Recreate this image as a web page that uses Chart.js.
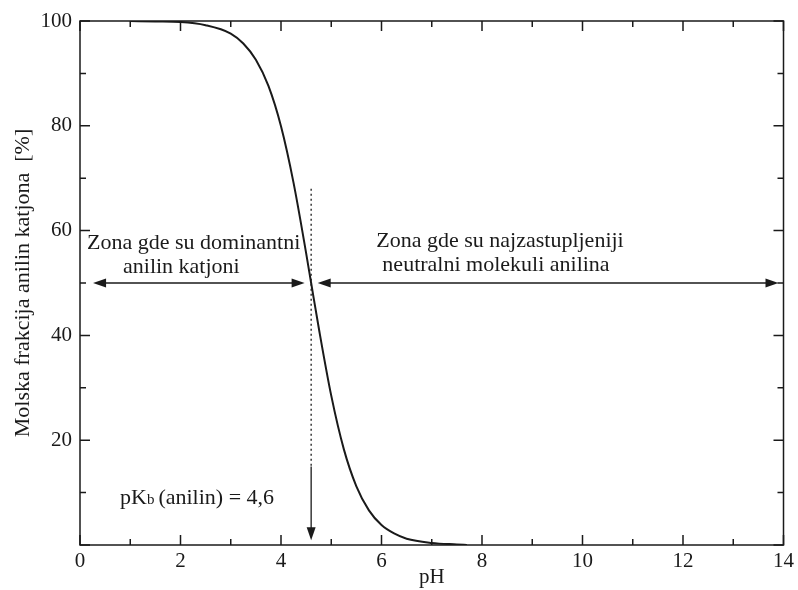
<!DOCTYPE html>
<html><head><meta charset="utf-8">
<script src="https://cdn.jsdelivr.net/npm/chart.js@4/dist/chart.umd.min.js"></script>
<style>html,body{margin:0;padding:0;background:#fff}#wrap{width:798px;height:590px}</style>
</head><body><div id="wrap"><canvas id="c" width="798" height="590"></canvas></div>
<script>
// Data
const pHValues = [1.0,1.5,2.0,2.5,3.0,3.25,3.5,3.75,4.0,4.25,4.5,4.6,4.75,5.0,5.25,5.5,5.75,6.0,6.25,6.5,7.0,7.5,7.7];
const cationPercent = [100.0,99.9,99.8,99.2,97.6,95.7,92.6,87.6,79.9,69.1,55.7,50.0,41.5,28.5,18.3,11.2,6.6,3.8,2.2,1.2,0.4,0.1,0.0];
const xTickLabels = ['0','2','4','6','8','10','12','14'];
const yTickLabels = ['20','40','60','80','100'];
const pKb = 4.6;

const SERIF = '"Liberation Serif", "DejaVu Serif", serif';
const INK = '#1a1a1a';

function arrowHead(ctx, x, y, dir) {
  const L = 13, W = 4.5;
  ctx.beginPath();
  if (dir === 'left') { ctx.moveTo(x, y); ctx.lineTo(x + L, y - W); ctx.lineTo(x + L, y + W); }
  else if (dir === 'right') { ctx.moveTo(x, y); ctx.lineTo(x - L, y - W); ctx.lineTo(x - L, y + W); }
  else { ctx.moveTo(x, y); ctx.lineTo(x - W, y - L); ctx.lineTo(x + W, y - L); }
  ctx.closePath(); ctx.fill();
}

const decor = {
  id: 'decor',
  afterDatasetsDraw(chart) {
    const { ctx, chartArea: a, scales: { x, y } } = chart;
    ctx.save();
    ctx.strokeStyle = INK; ctx.fillStyle = INK;
    ctx.lineWidth = 1.5;
    ctx.strokeRect(a.left, a.top, a.right - a.left, a.bottom - a.top);
    for (let v = 0; v <= 14; v++) {
      const px = x.getPixelForValue(v), len = v % 2 === 0 ? 10 : 6;
      ctx.beginPath();
      ctx.moveTo(px, a.bottom); ctx.lineTo(px, a.bottom - len);
      ctx.moveTo(px, a.top); ctx.lineTo(px, a.top + len);
      ctx.stroke();
    }
    for (let v = 0; v <= 100; v += 10) {
      const py = y.getPixelForValue(v), len = v % 20 === 0 ? 10 : 6;
      ctx.beginPath();
      ctx.moveTo(a.left, py); ctx.lineTo(a.left + len, py);
      ctx.moveTo(a.right, py); ctx.lineTo(a.right - len, py);
      ctx.stroke();
    }
    const xp = x.getPixelForValue(pKb);
    ctx.lineWidth = 1.3;
    ctx.setLineDash([2, 3]);
    ctx.beginPath(); ctx.moveTo(xp, y.getPixelForValue(68)); ctx.lineTo(xp, y.getPixelForValue(15)); ctx.stroke();
    ctx.setLineDash([]);
    ctx.beginPath(); ctx.moveTo(xp, y.getPixelForValue(15)); ctx.lineTo(xp, y.getPixelForValue(1.5)); ctx.stroke();
    arrowHead(ctx, xp, y.getPixelForValue(0.9), 'down');
    const ya = y.getPixelForValue(50);
    const segs = [[0.26, 4.47], [4.73, 13.9]];
    ctx.lineWidth = 1.5;
    segs.forEach(([s, e]) => {
      const x1 = x.getPixelForValue(s), x2 = x.getPixelForValue(e);
      ctx.beginPath(); ctx.moveTo(x1 + 5, ya); ctx.lineTo(x2 - 5, ya); ctx.stroke();
      arrowHead(ctx, x1, ya, 'left'); arrowHead(ctx, x2, ya, 'right');
    });
    ctx.font = '22px ' + SERIF;
    ctx.textBaseline = 'middle';
    ctx.textAlign = 'left';
    ctx.fillText('Zona gde su dominantni', 87, 243);
    ctx.fillText('anilin katjoni', 123, 267);
    ctx.textAlign = 'center';
    ctx.fillText('Zona gde su najzastupljeniji', 500, 241);
    ctx.fillText('neutralni molekuli anilina', 496, 265);
    ctx.textAlign = 'left';
    let tx = 120; const ty = 498;
    ctx.font = '22px ' + SERIF;
    ctx.fillText('pK', tx, ty); tx += ctx.measureText('pK').width;
    ctx.font = '15px ' + SERIF;
    ctx.fillText('b', tx, ty + 2); tx += ctx.measureText('b').width + 4;
    ctx.font = '22px ' + SERIF;
    ctx.fillText('(anilin) = 4,6', tx, ty);
    ctx.restore();
  }
};

new Chart(document.getElementById('c'), {
  type: 'line',
  data: {
    datasets: [{
      data: pHValues.map((p, i) => ({ x: p, y: cationPercent[i] })),
      borderColor: INK, borderWidth: 2, pointRadius: 0,
      cubicInterpolationMode: 'monotone', fill: false
    }]
  },
  options: {
    responsive: false, animation: false,
    layout: { padding: { left: 0, right: 13, top: 21, bottom: 0 } },
    plugins: { legend: { display: false }, tooltip: { enabled: false } },
    scales: {
      x: {
        type: 'linear', min: 0, max: 14,
        grid: { display: false, drawTicks: false }, border: { display: false },
        ticks: {
          stepSize: 2, padding: 4, color: INK, font: { family: SERIF, size: 21 },
          callback: (v) => xTickLabels.includes(String(v)) ? String(v) : ''
        },
        title: { display: true, text: 'pH', color: INK, font: { family: SERIF, size: 21 }, padding: { top: -2, bottom: 0 } },
        afterFit: (s) => { s.height = 45; }
      },
      y: {
        min: 0, max: 100,
        grid: { display: false, drawTicks: false }, border: { display: false },
        ticks: {
          stepSize: 20, padding: 8, color: INK, font: { family: SERIF, size: 21 },
          callback: (v) => yTickLabels.includes(String(v)) ? String(v) : ''
        },
        title: { display: true, text: 'Molska frakcija anilin katjona  [%]', color: INK, font: { family: SERIF, size: 22 }, padding: { top: 10, bottom: 0 } },
        afterFit: (s) => { s.width = 80; }
      }
    }
  },
  plugins: [decor]
});
</script></body></html>
